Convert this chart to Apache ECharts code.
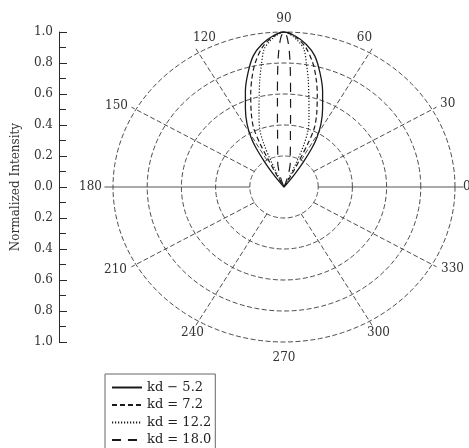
<!DOCTYPE html>
<html>
<head>
<meta charset="utf-8">
<script src="https://cdn.jsdelivr.net/npm/echarts@6/dist/echarts.min.js"></script>
<style>
  html, body { margin: 0; padding: 0; background: #fff; }
  #chart { width: 469px; height: 448px; }
</style>
</head>
<body>
<div id="chart"></div>
<script>
// Radiation patterns: angle θ in degrees (0° to the right, 90° straight up)
// and normalized intensity at that angle.
const kd52Angle = [50, 51, 53, 55, 57, 59, 62, 66, 70, 74, 78, 82, 86, 90, 94, 98, 102, 106, 110, 114, 118, 121, 123, 125, 127, 129, 130];
const kd52R     = [0, 0.04, 0.11, 0.20, 0.30, 0.375, 0.46, 0.555, 0.66, 0.765, 0.865, 0.93, 0.975, 1.0, 0.975, 0.93, 0.865, 0.765, 0.66, 0.555, 0.46, 0.375, 0.30, 0.20, 0.11, 0.04, 0];

const kd72Angle = [60, 60.5, 61.5, 62.5, 63.5, 65, 68, 72, 75, 78, 82, 86, 90, 94, 98, 102, 105, 108, 112, 115, 116.5, 117.5, 118.5, 119.5, 120];
const kd72R     = [0, 0.05, 0.12, 0.20, 0.32, 0.42, 0.51, 0.63, 0.725, 0.815, 0.91, 0.97, 1.0, 0.97, 0.91, 0.815, 0.725, 0.63, 0.51, 0.42, 0.32, 0.20, 0.12, 0.05, 0];

const kd122Angle = [63.5, 64.5, 65.5, 67, 69.2, 73, 76, 78.5, 80.5, 82.5, 85, 87.5, 90, 92.5, 95, 97.5, 99.5, 101.5, 104, 107, 110.8, 113, 114.5, 115.5, 116.5];
const kd122R     = [0, 0.08, 0.18, 0.30, 0.40, 0.50, 0.60, 0.71, 0.80, 0.895, 0.945, 0.98, 1.0, 0.98, 0.945, 0.895, 0.80, 0.71, 0.60, 0.50, 0.40, 0.30, 0.18, 0.08, 0];

const kd180Angle = [68, 70, 72, 74, 77, 80, 82, 84, 85, 86, 87, 88, 89, 90, 91, 92, 93, 94, 95, 96, 98, 100, 103, 106, 108, 110, 112];
const kd180R     = [0, 0.03, 0.075, 0.11, 0.165, 0.21, 0.27, 0.36, 0.44, 0.55, 0.72, 0.88, 0.97, 1.0, 0.97, 0.88, 0.72, 0.55, 0.44, 0.36, 0.27, 0.21, 0.165, 0.11, 0.075, 0.03, 0];

const seriesNames = ['kd − 5.2', 'kd = 7.2', 'kd = 12.2', 'kd = 18.0'];

// Polar grid
const ringRadii   = [0.2, 0.4, 0.6, 0.8, 1.0];
const spokeAngles = [30, 60, 120, 150, 210, 240, 300, 330];
const axisAngles  = [0, 180];
const angleLabels = [0, 30, 60, 90, 120, 150, 180, 210, 240, 270, 300, 330];

// Label placement around the outer ring: [dx, dy, align]
const labelPlacement = {
  0:   [8, 0, 'left'],
  30:  [8, -6, 'left'],
  60:  [-5, -15, 'center'],
  90:  [0, -13, 'center'],
  120: [6, -15, 'center'],
  150: [-8, -4, 'right'],
  180: [-11, 0, 'right'],
  210: [-9, 5, 'right'],
  240: [-6, 12, 'center'],
  270: [0, 16, 'center'],
  300: [9, 12, 'center'],
  330: [9, 4, 'left']
};

const SERIF = '"DejaVu Serif", serif';
const INK = '#2a2a2a';
const rad = d => d * Math.PI / 180;
const toXY = (angles, rs) => angles.map((a, i) => [rs[i] * Math.cos(rad(a)), rs[i] * Math.sin(rad(a))]);

const lobeStyles = [
  { type: 'solid', width: 1.3 },
  { type: [5, 3], width: 1.2 },
  { type: [1.2, 1.8], width: 1.2 },
  { type: [9, 7], width: 1.2 }
];
const lobeData = [
  toXY(kd52Angle, kd52R),
  toXY(kd72Angle, kd72R),
  toXY(kd122Angle, kd122R),
  toXY(kd180Angle, kd180R)
];

const chart = echarts.init(document.getElementById('chart'), null, { renderer: 'canvas' });

chart.setOption({
  backgroundColor: '#fff',
  animation: false,
  grid: { left: 113, right: 14, top: 32, bottom: 106, containLabel: false },
  xAxis: { type: 'value', min: -1, max: 1, show: false },
  yAxis: {
    type: 'value', min: -1, max: 1, interval: 0.2,
    position: 'left', offset: 54,
    axisLine: { show: true, onZero: false, lineStyle: { color: INK, width: 1 } },
    axisTick: { show: true, inside: true, length: 8, lineStyle: { color: INK, width: 1 } },
    minorTick: { show: true, splitNumber: 2, length: 7, lineStyle: { color: INK, width: 1 } },
    splitLine: { show: false },
    axisLabel: {
      margin: 6, color: '#333', fontFamily: SERIF, fontSize: 12,
      formatter: v => Math.abs(v).toFixed(1)
    },
    name: 'Normalized Intensity', nameLocation: 'middle', nameGap: 37,
    nameTextStyle: { color: '#333', fontFamily: SERIF, fontSize: 12 }
  },
  legend: {
    orient: 'vertical', left: 105, top: 374, width: 118, height: 95,
    itemWidth: 30, itemHeight: 12, itemGap: 4.5,
    padding: [7, 4, 6, 6],
    borderColor: '#666', borderWidth: 1, borderRadius: 0,
    itemStyle: { opacity: 0 },
    textStyle: { fontFamily: SERIF, fontSize: 13, color: '#222' },
    data: seriesNames
  },
  series: [
    {
      // concentric rings
      type: 'custom', silent: true, z: 1,
      data: ringRadii.map(r => [r, 0]),
      renderItem(params, api) {
        const r = api.value(0);
        const pts = [];
        for (let d = 0; d <= 360; d += 2) {
          pts.push(api.coord([r * Math.cos(rad(d)), r * Math.sin(rad(d))]));
        }
        return { type: 'polyline', shape: { points: pts },
          style: { stroke: '#3a3a3a', lineWidth: 0.9, lineDash: [5, 2.5], fill: null } };
      }
    },
    {
      // dashed spokes
      type: 'custom', silent: true, z: 1,
      data: spokeAngles.map(a => [a, 0]),
      renderItem(params, api) {
        const a = rad(api.value(0));
        const p1 = api.coord([0.2 * Math.cos(a), 0.2 * Math.sin(a)]);
        const p2 = api.coord([1.03 * Math.cos(a), 1.03 * Math.sin(a)]);
        return { type: 'line', shape: { x1: p1[0], y1: p1[1], x2: p2[0], y2: p2[1] },
          style: { stroke: '#3a3a3a', lineWidth: 0.9, lineDash: [5, 2.5] } };
      }
    },
    {
      // solid 0°–180° axis
      type: 'custom', silent: true, z: 1,
      data: axisAngles.map(a => [a, 0]),
      renderItem(params, api) {
        const a = rad(api.value(0));
        const p1 = api.coord([0.2 * Math.cos(a), 0.2 * Math.sin(a)]);
        const p2 = api.coord([1.05 * Math.cos(a), 1.05 * Math.sin(a)]);
        return { type: 'line', shape: { x1: p1[0], y1: p1[1], x2: p2[0], y2: p2[1] },
          style: { stroke: '#555', lineWidth: 1 } };
      }
    },
    {
      // angle labels
      type: 'custom', silent: true, z: 3,
      data: angleLabels.map(a => [a, 0]),
      renderItem(params, api) {
        const deg = api.value(0);
        const a = rad(deg);
        const p = api.coord([Math.cos(a), Math.sin(a)]);
        const [dx, dy, align] = labelPlacement[deg];
        return { type: 'text', x: p[0] + dx, y: p[1] + dy,
          style: { text: String(deg), fill: '#333', font: '12px ' + SERIF,
            align: align, verticalAlign: 'middle' } };
      }
    },
    ...seriesNames.map((name, i) => ({
      name: name, type: 'line', z: 5,
      data: lobeData[i],
      symbol: 'none', smooth: 0.3,
      lineStyle: { color: '#1a1a1a', width: lobeStyles[i].width, type: lobeStyles[i].type },
      itemStyle: { color: '#1a1a1a' }
    }))
  ]
});
</script>
</body>
</html>
